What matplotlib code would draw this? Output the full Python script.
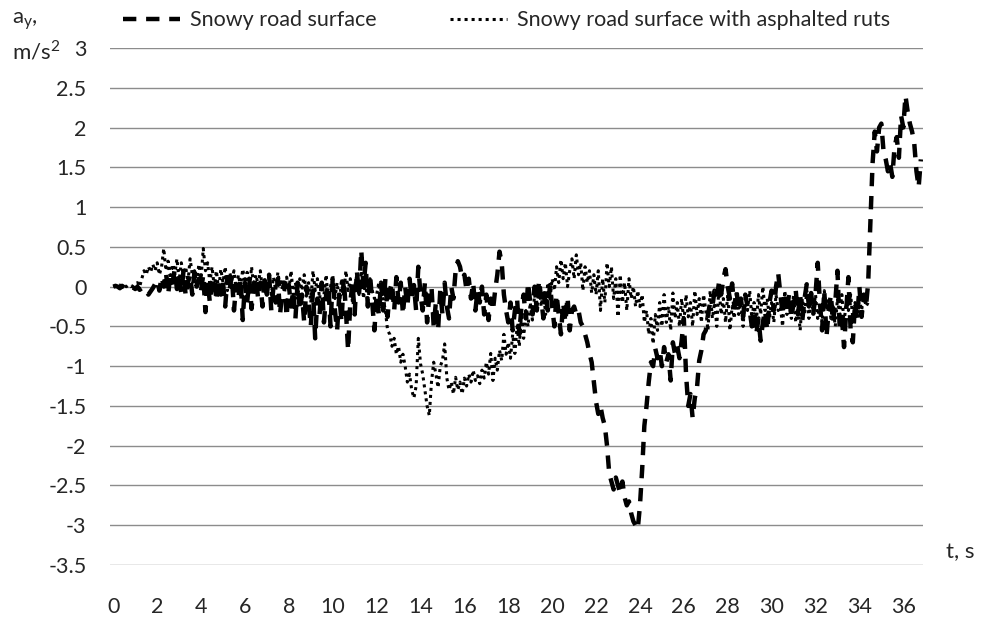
import matplotlib
matplotlib.use("Agg")
import matplotlib.pyplot as plt
import numpy as np

step = 0.1

# Snowy road surface (dashed), a_y in m/s^2, t = 0.0 ... 36.8
snowy = [
    0.0, 0.01, 0.0, -0.02, 0.01, -0.01, -0.03, 0.0, -0.02, -0.01,
    -0.03, 0.0, -0.04, -0.02, -0.01, -0.05, -0.1, -0.06, -0.02, 0.03,
    0.08, -0.05, 0.12, 0.0, 0.18, -0.1, 0.15, 0.05, 0.22, -0.03,
    0.1, -0.08, 0.2, -0.12, 0.05, 0.15, -0.1, 0.18, 0.0, 0.1,
    -0.05, 0.15, -0.32, 0.08, -0.2, 0.05, 0.12, -0.18, 0.1, -0.1,
    0.05, -0.25, 0.12, -0.05, 0.15, -0.3, 0.02, -0.15, 0.1, -0.42,
    0.05, -0.2, 0.1, -0.28, 0.0, 0.12, -0.15, 0.05, -0.25, 0.08,
    -0.1, 0.15, -0.3, 0.0, -0.2, 0.1, -0.35, -0.05, 0.05, -0.38,
    0.02, -0.25, -0.05, -0.4, 0.05, -0.3, -0.1, -0.45, 0.0, -0.2,
    -0.5, -0.05, -0.65, -0.15, -0.35, 0.05, -0.45, -0.1, 0.02, -0.5,
    0.12, -0.3, -0.55, -0.1, -0.45, 0.1, -0.3, -0.8, -0.2, 0.05,
    -0.35, 0.2, -0.1, 0.46, 0.0, 0.3, -0.25, 0.15, -0.2, -0.55,
    -0.1, -0.35, 0.05, -0.3, 0.1, -0.38, -0.05, 0.05, -0.3, 0.12,
    -0.2, 0.05, -0.35, 0.0, -0.25, 0.1, -0.15, 0.02, -0.3, 0.25,
    -0.1, -0.3, 0.05, -0.45, -0.1, 0.0, -0.5, -0.2, -0.55, -0.05,
    -0.35, 0.05, -0.25, -0.4, 0.0, -0.15, 0.2, 0.32, 0.25, 0.1,
    0.15, -0.05, 0.1, -0.15, 0.05, -0.3, -0.05, -0.2, 0.0, -0.35,
    -0.1, -0.42, -0.15, -0.3, -0.05, 0.15, 0.44, 0.3, -0.1, -0.3,
    -0.45, -0.2, -0.55, -0.3, -0.15, -0.6, -0.25, -0.1, -0.4, 0.05,
    -0.2, -0.35, 0.0, -0.3, 0.08, -0.15, -0.4, -0.05, -0.3, 0.02,
    -0.25, -0.5, -0.1, -0.35, -0.6, -0.2, -0.45, -0.13, -0.55, -0.3,
    -0.25, -0.35, -0.3, -0.45, -0.5, -0.6, -0.7, -0.84, -0.95, -1.2,
    -1.45, -1.6, -1.5, -1.65, -1.75, -2.0, -2.35, -2.45, -2.55, -2.4,
    -2.5, -2.6, -2.45, -2.65, -2.75, -2.7, -2.85, -2.95, -3.0, -3.05,
    -2.75, -2.3, -1.75, -1.5, -1.2, -0.95, -1.0, -0.78, -0.9, -0.8,
    -1.0, -0.76, -0.95, -0.85, -1.18, -0.7, -0.85, -0.75, -0.9, -0.68,
    -0.4, -1.1, -1.5, -1.35, -1.65, -1.4, -1.27, -0.93, -0.8, -0.6,
    -0.55, -0.35, -0.2, -0.25, -0.05, -0.15, 0.05, -0.1, 0.1, 0.22,
    0.0, -0.15, 0.04, -0.25, -0.05, -0.3, -0.15, -0.38, -0.1, -0.25,
    -0.3, -0.5, -0.35, -0.6, -0.4, -0.68, -0.45, -0.3, -0.55, -0.2,
    -0.05, -0.3, 0.0, 0.17, -0.1, -0.34, -0.15, -0.3, -0.08, -0.4,
    -0.2, -0.05, -0.35, -0.1, -0.42, -0.15, 0.03, -0.25, -0.08, -0.34,
    -0.1, 0.3, -0.2, -0.55, -0.05, -0.63, -0.3, -0.1, -0.45, -0.2,
    0.2, -0.5, -0.38, -0.76, -0.3, 0.12, -0.55, -0.7, -0.2, -0.4,
    0.0, -0.38, -0.1, -0.25, 0.05, 0.8, 1.55, 1.95, 1.7, 2.0,
    2.05, 1.7, 1.6, 1.45, 1.55, 1.38, 1.75, 1.88, 1.62, 2.15,
    2.0, 2.4, 2.2, 2.05, 1.95, 1.8, 1.45, 1.25, 1.6,
]

# Snowy road surface with asphalted ruts (dotted), t = 0.0 ... 34.4
ruts = [
    0.0, 0.01, 0.0, 0.02, -0.01, 0.01, 0.0, 0.02, 0.0, 0.01,
    0.03, 0.05, 0.0, 0.1, 0.2, 0.15, 0.25, 0.18, 0.28, 0.2,
    0.3, 0.15, 0.25, 0.48, 0.2, 0.32, 0.1, 0.28, 0.15, 0.35,
    0.08, 0.3, 0.12, 0.25, 0.05, 0.35, 0.15, 0.2, 0.05, 0.28,
    0.1, 0.48, 0.2, 0.3, 0.05, 0.25, 0.0, 0.2, -0.05, 0.22,
    0.05, 0.25, -0.05, 0.18, 0.08, 0.2, -0.05, 0.15, 0.0, 0.22,
    0.05, 0.18, -0.08, 0.25, 0.0, 0.15, 0.02, 0.2, -0.05, 0.1,
    0.0, 0.15, -0.1, 0.12, -0.05, 0.18, 0.0, 0.1, -0.08, 0.12,
    -0.05, 0.2, -0.1, 0.05, -0.15, 0.1, -0.05, 0.15, -0.12, 0.05,
    -0.2, 0.2, -0.05, 0.1, -0.15, 0.05, -0.1, 0.15, -0.2, 0.0,
    0.15, -0.15, 0.05, -0.25, 0.1, -0.1, 0.2, -0.05, 0.1, -0.2,
    0.0, 0.15, -0.1, 0.2, -0.15, 0.05, -0.2, 0.1, -0.05, -0.15,
    -0.1, 0.05, -0.25, -0.15, -0.3, -0.55, -0.6, -0.75, -0.65, -0.85,
    -0.75, -0.95, -0.85, -1.0, -1.2, -1.1, -1.3, -1.4, -1.25, -0.65,
    -0.97, -1.1, -1.3, -1.5, -1.62, -1.2, -0.95, -1.1, -1.27, -1.0,
    -0.93, -0.72, -1.15, -1.3, -1.2, -1.35, -1.14, -1.3, -1.2, -1.35,
    -1.15, -1.25, -1.1, -1.2, -1.05, -1.18, -1.12, -1.22, -1.05, -1.15,
    -0.95, -1.1, -0.84, -1.18, -0.9, -1.05, -0.8, -0.93, -0.6, -0.85,
    -0.7, -0.9, -0.6, -0.84, -0.5, -0.75, -0.38, -0.65, -0.3, -0.5,
    -0.2, -0.42, -0.1, -0.3, 0.0, -0.25, -0.05, -0.35, 0.05, -0.15,
    0.1, -0.05, 0.25, 0.05, 0.34, 0.1, 0.3, 0.0, 0.2, 0.35,
    0.1, 0.4, 0.15, 0.3, -0.05, 0.25, 0.05, 0.2, -0.08, 0.15,
    -0.1, 0.2, -0.3, 0.1, -0.2, 0.3, 0.0, 0.25, -0.15, 0.1,
    -0.38, 0.15, -0.2, 0.05, -0.3, 0.1, -0.15, 0.0, -0.25, -0.05,
    -0.25, -0.1, -0.45, -0.3, -0.6, -0.4, -0.72, -0.35, -0.55, -0.2,
    -0.5, -0.1, -0.45, -0.25, -0.55, -0.08, -0.4, -0.2, -0.5, -0.15,
    -0.45, -0.1, -0.38, -0.2, -0.5, -0.05, -0.35, -0.15, -0.45, -0.1,
    -0.3, -0.55, -0.05, -0.4, -0.2, -0.5, 0.0, -0.35, -0.15, -0.45,
    -0.1, -0.55, -0.25, -0.4, -0.05, -0.35, -0.2, -0.5, -0.1, -0.3,
    -0.05, -0.4, -0.2, -0.45, -0.1, -0.35, 0.0, -0.3, -0.15, -0.4,
    -0.2, -0.45, -0.1, -0.3, -0.25, -0.5, -0.05, -0.35, -0.2, -0.4,
    -0.1, -0.45, -0.22, -0.55, -0.15, -0.35, -0.05, -0.4, -0.2, -0.3,
    -0.1, -0.4, -0.2, -0.45, -0.05, -0.3, -0.15, -0.4, -0.25, -0.5,
    -0.15, -0.35, -0.1, -0.45, -0.2, -0.3, -0.1, -0.4, -0.2, -0.35,
    -0.15, -0.3, -0.1, -0.25, -0.2,
]

x_ticks = list(range(0, 37, 2))
y_ticks = [3, 2.5, 2, 1.5, 1, 0.5, 0, -0.5, -1, -1.5, -2, -2.5, -3, -3.5]

labels = ["Snowy road surface", "Snowy road surface with asphalted ruts"]

plt.rcParams.update({
    "font.family": ["Lato", "DejaVu Sans"],
    "text.color": "#262626",
    "mathtext.fontset": "custom",
    "mathtext.rm": "Lato",
})

fig = plt.figure(figsize=(9.83, 6.22), dpi=100)
ax = fig.add_axes([0.1119, 0.0916, 0.8271, 0.8312])

t_snowy = np.arange(len(snowy)) * step
t_ruts = np.arange(len(ruts)) * step

ax.plot(t_ruts, ruts, color="black", lw=2.2, linestyle=(0, (1.0, 1.3)),
        dash_capstyle="butt", label=labels[1], zorder=3)
ax.plot(t_snowy, snowy, color="black", lw=3.2, linestyle=(0, (3.0, 2.2)),
        dash_capstyle="butt", label=labels[0], zorder=4)

ax.set_xlim(-0.15, 36.9)
ax.set_ylim(-3.5, 3)
ax.set_xticks(x_ticks)
ax.set_yticks(y_ticks)
ax.set_yticklabels([f"{v:g}" for v in y_ticks])
ax.grid(axis="y", color="#8c8c8c", lw=1.0)
ax.set_axisbelow(True)
for s in ax.spines.values():
    s.set_visible(False)
ax.tick_params(length=0, labelsize=15.5, colors="#262626")
ax.tick_params(axis="y", pad=17)
ax.tick_params(axis="x", pad=23)

handles, labs = ax.get_legend_handles_labels()
order = [1, 0]
ax.legend([handles[i] for i in order], [labs[i] for i in order], ncol=2,
          loc="center left", bbox_to_anchor=(0.016, 1.054), frameon=False,
          fontsize=15.5, handlelength=2.65, handletextpad=0.47,
          columnspacing=3.4, borderaxespad=0.0, borderpad=0.0)

fig.text(0.012, 0.966, r"a$_\mathregular{y}$,", fontsize=16, va="center")
fig.text(0.012, 0.918, r"m/s$^\mathregular{2}$", fontsize=16, va="center")
fig.text(0.962, 0.112, "t, s", fontsize=16, va="center")

fig.savefig("out.png", dpi=100)
